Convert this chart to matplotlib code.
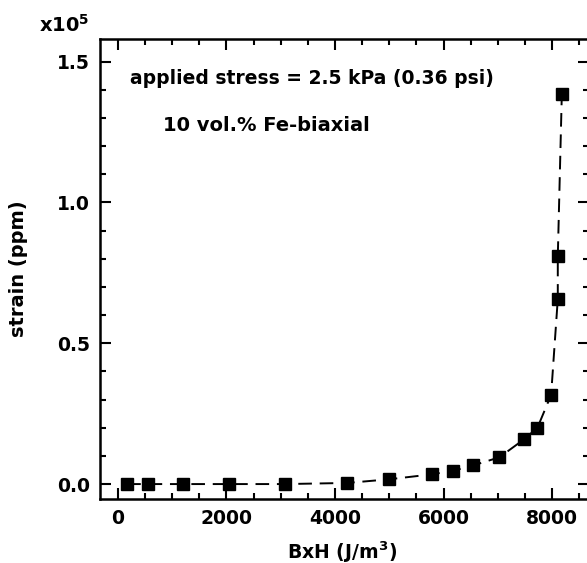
import numpy as np
import matplotlib
matplotlib.use('Agg')
import matplotlib.pyplot as plt
from matplotlib.ticker import MultipleLocator, FixedLocator

plt.rcParams['font.family'] = ['DejaVu Sans']
plt.rcParams['font.weight'] = 'bold'
plt.rcParams['mathtext.default'] = 'regular'

# data
bxh = [171, 558, 1192, 2051, 3078, 4227, 5000, 5782, 6181, 6550, 7029,
       7484, 7730, 7982, 8105, 8105, 8179]
strain = [0, 0, 0, 0, 0, 400, 1700, 3450, 4730, 6650, 9500,
          15900, 20000, 31650, 65700, 80800, 138300]

x_ticks = [0, 2000, 4000, 6000, 8000]
x_labels = ['0', '2000', '4000', '6000', '8000']
y_ticks = [0, 50000, 100000, 150000]
y_labels = ['0.0', '0.5', '1.0', '1.5']

fig = plt.figure(figsize=(5.87, 5.63), dpi=100)
# axes runs slightly past the right edge, like the cropped original
ax = fig.add_axes([100 / 587, 64 / 563, 489 / 587, 460 / 563])

ax.plot(bxh, strain, color='black', linewidth=1.4, dashes=(7, 4),
        marker='s', markersize=8.3, markerfacecolor='black',
        markeredgecolor='black')

ax.set_xlim(-330, 8680)
ax.set_ylim(-5300, 158000)

ax.xaxis.set_major_locator(FixedLocator(x_ticks))
ax.set_xticklabels(x_labels)
ax.xaxis.set_minor_locator(MultipleLocator(500))
ax.yaxis.set_major_locator(FixedLocator(y_ticks))
ax.set_yticklabels(y_labels)
ax.yaxis.set_minor_locator(MultipleLocator(10000))

ax.tick_params(which='both', direction='in', top=True, right=True,
               width=1.5, labelsize=13.5)
ax.tick_params(which='major', length=8, pad=7)
ax.tick_params(which='minor', length=4)
for sp in ax.spines.values():
    sp.set_linewidth(1.8)

ax.set_xlabel('BxH (J/m$^3$)', fontsize=13.6, fontweight='bold')
ax.set_ylabel('strain (ppm)', fontsize=14, fontweight='bold')
ax.xaxis.set_label_coords(0.495, -0.087)
ax.yaxis.set_label_coords(-0.147, 0.5)

ax.text(0.061, 0.914, 'applied stress = 2.5 kPa (0.36 psi)',
        transform=ax.transAxes, fontsize=13.5, fontweight='bold', va='center')
ax.text(0.129, 0.812, '10 vol.% Fe-biaxial',
        transform=ax.transAxes, fontsize=14, fontweight='bold', va='center')

fig.text(39 / 587, 1 - 32 / 563, 'x10$^5$', fontsize=14, fontweight='bold',
         va='baseline')

fig.savefig('out.png', dpi=100)
